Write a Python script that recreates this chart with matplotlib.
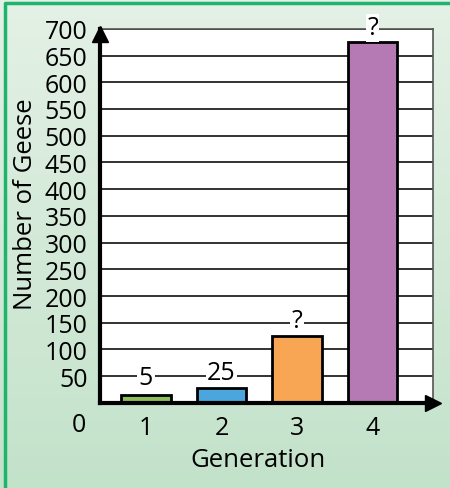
import numpy as np
import matplotlib.pyplot as plt
from matplotlib.colors import LinearSegmentedColormap

# Data
generations = [1, 2, 3, 4]
geese = [14, 27, 125, 675]          # drawn bar heights
bar_labels = ["5", "25", "?", "?"]
label_y = [48, 57, 155, 702]
bar_colors = ["#8dbf5e", "#4ba6dd", "#f8a654", "#b57ab3"]
y_ticks = list(range(50, 701, 50))

plt.rcParams['font.family'] = ['Open Sans', 'DejaVu Sans']

fig = plt.figure(figsize=(4.5, 4.89), dpi=100)

# light green gradient background with a green frame
bg = fig.add_axes([0, 0, 1, 1], zorder=-5)
grad = np.linspace(0, 1, 256).reshape(-1, 1)
cmap = LinearSegmentedColormap.from_list("bg", ["#e4f1e6", "#c3e2ca"])
bg.imshow(grad, aspect="auto", cmap=cmap, extent=[0, 1, 0, 1])
bg.plot([0.012, 0.012, 1], [0, 0.992, 0.992], color="#1fb46c", lw=2.5)
bg.set_xlim(0, 1)
bg.set_ylim(0, 1)
bg.axis("off")

ax = fig.add_axes([0.222, 0.174, 0.74, 0.765])
ax.set_facecolor("white")
ax.bar(generations, geese, width=0.66, color=bar_colors,
       edgecolor="black", linewidth=2, zorder=3)

ax.set_xlim(0.39, 4.8)
ax.set_ylim(0, 700)
ax.set_yticks(y_ticks)
ax.set_xticks(generations)
ax.tick_params(length=0, labelsize=18, pad=9)
ax.yaxis.grid(True, color="#222222", lw=1.3, zorder=0)

for s in ["top", "right"]:
    ax.spines[s].set_color("#555555")
    ax.spines[s].set_linewidth(1.2)
for s in ["left", "bottom"]:
    ax.spines[s].set_linewidth(3)
    ax.spines[s].set_zorder(5)

# axis arrows
ax.plot(1, 0, ">k", ms=11, transform=ax.transAxes, clip_on=False, zorder=6)
ax.plot(0, 0.985, "^k", ms=11, transform=ax.transAxes, clip_on=False, zorder=6)

for x, y, t in zip(generations, label_y, bar_labels):
    ax.text(x, y, t, ha="center", va="center", fontsize=18, zorder=4,
            bbox=dict(facecolor="white", edgecolor="none", pad=1), clip_on=False)

# origin label under the y axis
ax.text(0.11, -0.059, "0", transform=ax.get_xaxis_transform(),
        ha="center", va="center", fontsize=18)

ax.set_xlabel("Generation", fontsize=18.5)
ax.set_ylabel("Number of Geese", fontsize=18.5)
ax.xaxis.set_label_coords(0.474, -0.15)
ax.yaxis.set_label_coords(-0.224, 0.535)
ax.xaxis.label.set_va("center")
ax.yaxis.label.set_va("center")

fig.savefig("out.png", dpi=100)
